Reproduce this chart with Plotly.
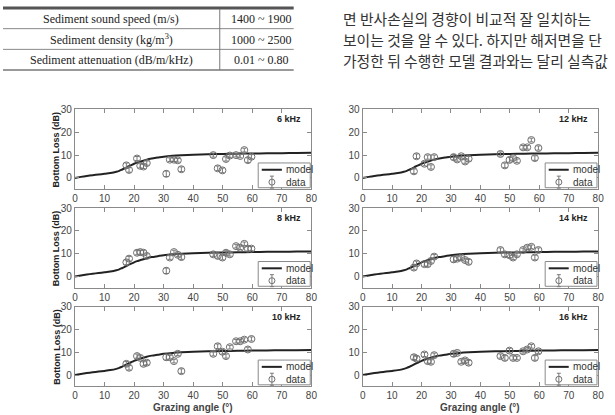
import plotly.graph_objects as go

# ---------------- data ----------------
table_params = ["Sediment sound speed (m/s)", "Sediment density (kg/m<sup>3</sup>)",
                "Sediment attenuation (dB/m/kHz)"]
table_ranges = ["1400 ~ 1900", "1000 ~ 2500", "0.01 ~ 0.80"]

korean_lines = ["면 반사손실의 경향이 비교적 잘 일치하는",
                "보이는 것을 알 수 있다. 하지만 해저면을 단",
                "가정한 뒤 수행한 모델 결과와는 달리 실측값"]

model_angle = [0, 2, 4, 6, 8, 10, 12, 14, 15, 16, 17, 18, 19, 20, 21, 22, 24, 26,
               28, 30, 33, 36, 40, 45, 50, 55, 60, 65, 70, 75, 80]
model_loss = [0.0, 0.45, 0.85, 1.2, 1.5, 1.8, 2.15, 2.7, 3.1, 3.7, 4.3, 5.0, 5.6, 6.2,
              6.7, 7.1, 7.9, 8.5, 8.9, 9.3, 9.7, 9.95, 10.2, 10.4, 10.5, 10.6, 10.7,
              10.8, 10.85, 10.9, 11.0]

angles = [17.4, 18.3, 21.0, 22.1, 23.2, 24.3, 30.9, 32.1, 33.5, 34.8, 36.0,
          46.8, 48.3, 49.9, 51.1, 52.4, 54.5, 55.9, 57.3, 58.5, 59.7]
errors = [1.0, 1.0, 0.9, 0.9, 0.9, 0.9, 1.2, 0.8, 0.8, 0.8, 1.0,
          0.9, 1.0, 1.0, 0.9, 0.8, 0.8, 0.8, 0.8, 1.0, 0.9]

loss_6 = [5.5, 3.5, 8.5, 5.3, 5.0, 6.5, 1.8, 8.0, 8.0, 7.7, 3.8,
          10.0, 4.2, 3.3, 8.3, 9.8, 10.0, 9.6, 12.2, 7.8, 9.3]
loss_8 = [6.2, 7.8, 10.4, 10.7, 10.4, 9.0, 2.5, 8.3, 10.7, 9.5, 8.5,
          9.7, 9.0, 8.3, 10.4, 9.7, 13.3, 12.6, 14.3, 12.2, 12.2]
loss_10 = [4.9, 3.2, 8.3, 7.5, 4.9, 5.4, 7.8, 7.8, 6.1, 9.3, 1.7,
           9.3, 12.6, 10.2, 8.3, 12.2, 14.8, 14.8, 15.5, 11.2, 15.8]
loss_12 = [2.9, 9.5, 6.2, 9.1, 4.8, 9.1, 9.1, 8.1, 9.5, 7.2, 8.4,
           10.5, 5.5, 7.9, 8.7, 7.5, 13.4, 13.4, 16.6, 8.7, 13.1]
loss_14 = [3.9, 5.7, 5.4, 5.4, 6.8, 8.7, 7.5, 7.8, 8.3, 7.2, 6.4,
           11.6, 9.7, 9.3, 8.3, 9.7, 11.6, 12.6, 13.0, 8.3, 11.6]
loss_16 = [7.8, 7.2, 9.0, 6.1, 5.8, 8.7, 9.3, 9.7, 5.8, 6.4, 5.4,
           8.3, 7.5, 10.7, 7.5, 7.5, 10.4, 11.2, 12.6, 7.5, 10.4]

panel_labels = ["6 kHz", "12 kHz", "8 kHz", "14 kHz", "10 kHz", "16 kHz"]
panel_losses = [loss_6, loss_12, loss_8, loss_14, loss_10, loss_16]

x_ticks = [0, 10, 20, 30, 40, 50, 60, 70, 80]
y_ticks = [0, 10, 20, 30]

# ---------------- layout geometry ----------------
W, H = 615, 415
col_px = [(73, 313), (365, 604)]
row_px = [(105, 186), (205, 286), (305, 386)]

TICK_FONT = dict(family="Liberation Sans, Arial", size=10, color="#444")
FRAME = "#8a8a8a"

fig = go.Figure()
annotations = []
shapes = []

for i, (label, loss) in enumerate(zip(panel_labels, panel_losses)):
    r, c = divmod(i, 2)
    k = "" if i == 0 else str(i + 1)
    xa, ya = "x" + k, "y" + k
    x0, x1 = col_px[c]
    t, b = row_px[r]
    fig.update_layout(**{
        "xaxis" + k: dict(domain=[x0 / W, x1 / W], anchor=ya, range=[0, 80],
                          tickvals=x_ticks, ticks="inside", ticklen=4, tickcolor=FRAME,
                          showline=True, linecolor=FRAME, linewidth=1, mirror="ticks",
                          showgrid=False, zeroline=False, tickfont=TICK_FONT),
        "yaxis" + k: dict(domain=[1 - b / H, 1 - t / H], anchor=xa, range=[-5, 30],
                          tickvals=y_ticks, ticks="inside", ticklen=4, tickcolor=FRAME,
                          showline=True, linecolor=FRAME, linewidth=1, mirror="ticks",
                          showgrid=False, zeroline=False, tickfont=TICK_FONT),
    })
    fig.add_trace(go.Scatter(x=model_angle, y=model_loss, mode="lines", xaxis=xa, yaxis=ya,
                             line=dict(color="#222", width=2, shape="spline", smoothing=0.8),
                             showlegend=False, hoverinfo="skip"))
    fig.add_trace(go.Scatter(x=angles, y=loss, mode="markers", xaxis=xa, yaxis=ya,
                             marker=dict(symbol="circle-open", size=7,
                                         color="#6f6f6f", line=dict(width=1)),
                             error_y=dict(type="data", array=errors, visible=True,
                                          color="#7a7a7a", thickness=1, width=2),
                             showlegend=False))
    # panel label
    annotations.append(dict(text="<b>" + label + "</b>", xref=xa + " domain", yref=ya + " domain",
                            x=0.965, y=0.875, xanchor="right", yanchor="middle",
                            showarrow=False, font=dict(family="Liberation Sans, Arial",
                                                       size=9, color="#222")))
    # legend box (drawn)
    xd, yd = xa + " domain", ya + " domain"
    shapes.append(dict(type="rect", xref=xd, yref=yd, x0=0.775, x1=0.995, y0=0.02, y1=0.33,
                       line=dict(color=FRAME, width=1), fillcolor="white", layer="above"))
    shapes.append(dict(type="line", xref=xd, yref=yd, x0=0.79, x1=0.875, y0=0.245, y1=0.245,
                       line=dict(color="#222", width=2), layer="above"))
    shapes.append(dict(type="circle", xref=xd, yref=yd, xsizemode="pixel", ysizemode="pixel",
                       xanchor=0.833, yanchor=0.09, x0=-3, x1=3, y0=-3, y1=3,
                       line=dict(color="#6f6f6f", width=1), layer="above"))
    shapes.append(dict(type="line", xref=xd, yref=yd, xsizemode="pixel", ysizemode="pixel",
                       xanchor=0.833, yanchor=0.09, x0=0, x1=0, y0=-6, y1=6,
                       line=dict(color="#7a7a7a", width=1), layer="above"))
    for dy in (-6, 6):
        shapes.append(dict(type="line", xref=xd, yref=yd, xsizemode="pixel", ysizemode="pixel",
                           xanchor=0.833, yanchor=0.09, x0=-2, x1=2, y0=dy, y1=dy,
                           line=dict(color="#7a7a7a", width=1), layer="above"))
    for txt, yy in (("model", 0.245), ("data", 0.09)):
        annotations.append(dict(text=txt, xref=xd, yref=yd, x=0.885, y=yy, xanchor="left",
                                yanchor="middle", showarrow=False,
                                font=dict(family="Liberation Sans, Arial", size=10, color="#333")))
    # axis titles
    if c == 0:
        annotations.append(dict(text="<b>Bottom Loss (dB)</b>", xref="paper", yref="paper",
                                x=54 / W, y=1 - (t + b) / 2 / H, textangle=-90,
                                xanchor="center", yanchor="middle", showarrow=False,
                                font=dict(family="Liberation Sans, Arial", size=9, color="#222")))
    if r == 2:
        annotations.append(dict(text="<b>Grazing angle (°)</b>", xref="paper", yref="paper",
                                x=(x0 + x1) / 2 / W, y=1 - 407 / H, xanchor="center",
                                yanchor="middle", showarrow=False,
                                font=dict(family="Liberation Sans, Arial", size=10, color="#444")))

# ---------------- table + text ----------------
row_y = [13, 34, 55]
for ry, p, v in zip(row_y, table_params, table_ranges):
    annotations.append(dict(text=p, xref="paper", yref="paper", x=110 / W, y=1 - ry / H,
                            xanchor="center", yanchor="middle", showarrow=False,
                            font=dict(family="Liberation Serif, Times New Roman", size=12,
                                      color="#222")))
    annotations.append(dict(text=v, xref="paper", yref="paper", x=262 / W, y=1 - ry / H,
                            xanchor="center", yanchor="middle", showarrow=False,
                            font=dict(family="Liberation Serif, Times New Roman", size=12,
                                      color="#222")))
for ry, line in zip(row_y, korean_lines):
    annotations.append(dict(text=line, xref="paper", yref="paper", x=343 / W, y=1 - ry / H,
                            xanchor="left", yanchor="middle", showarrow=False,
                            font=dict(family="Noto Sans CJK KR", size=14.8, color="#333")))

shapes.append(dict(type="line", xref="paper", yref="paper", x0=0, x1=295 / W,
                   y0=1 - 2 / H, y1=1 - 2 / H, line=dict(color="#555", width=3)))
for ly in (23, 44):
    shapes.append(dict(type="line", xref="paper", yref="paper", x0=0, x1=295 / W,
                       y0=1 - ly / H, y1=1 - ly / H, line=dict(color="#888", width=1)))
shapes.append(dict(type="line", xref="paper", yref="paper", x0=0, x1=295 / W,
                   y0=1 - 65 / H, y1=1 - 65 / H, line=dict(color="#777", width=1.5)))
shapes.append(dict(type="line", xref="paper", yref="paper", x0=220 / W, x1=220 / W,
                   y0=1 - 3 / H, y1=1 - 65 / H, line=dict(color="#777", width=1)))

fig.update_layout(width=W, height=H, margin=dict(l=0, r=0, t=0, b=0),
                  paper_bgcolor="white", plot_bgcolor="white",
                  annotations=annotations, shapes=shapes, showlegend=False)

fig.write_html("out.html")
